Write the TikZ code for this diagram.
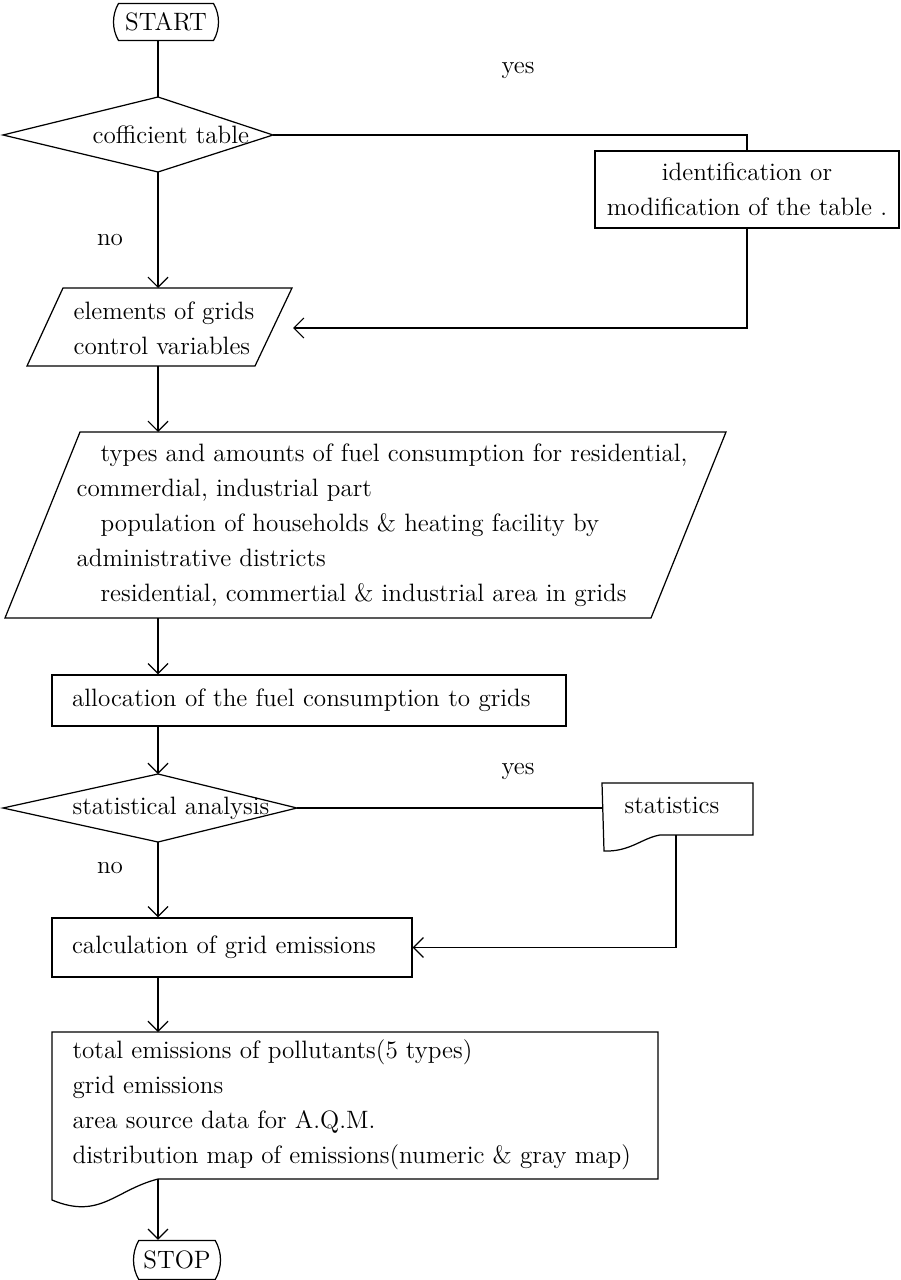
\documentclass[tikz,border=0pt]{standalone}
\usetikzlibrary{shapes.misc,arrows.meta}
\begin{document}
\begin{tikzpicture}
[
x=0.02cm,y=-0.02cm,
line width=0.7pt,
every node/.style={font=\fontsize{14.3}{19.9}\selectfont},
terminal/.style 2 args={draw,rounded rectangle,rounded rectangle arc length=60,inner sep=0pt,minimum width=#1,minimum height=#2},
process/.style 2 args={draw,rectangle,inner xsep=0.4cm,inner ysep=0pt,align=left,text width=#1,minimum height=#2},
txt/.style={inner sep=0pt,anchor=west,align=left},
flow/.style={-{Straight Barb[length=5.7pt,width=11.4pt]}},
]
\useasboundingbox (0,0) rectangle (901,1280);

%Place the nodes
\node[terminal={2.1cm}{0.74cm}] (start) at (166,22) {START};
\coordinate (d1l) at (3,135);
\coordinate (d1t) at (158,97);
\coordinate (d1r) at (273,135);
\coordinate (d1b) at (158,172);
\draw (d1l) -- (d1t) -- (d1r) -- (d1b) -- cycle;
\node[txt] (coef) at (92,135) {cofficient table};
\node (yes1) at (518,70) {yes};
\node (no1) at (110,240) {no};
\node[draw,rectangle,inner sep=0pt,align=center,minimum width=6.08cm,minimum height=1.54cm] (ident) at (747,189.5) {identification or\\ modification of the table .};

\coordinate (p1t) at (158,288);
\coordinate (p1b) at (158,366);
\coordinate (p1in) at (293,328);
\draw (63,288) -- (292,288) -- (255,366) -- (27,366) -- cycle;
\node[txt] (grids) at (73,328.5) {elements of grids\\ control variables};

\coordinate (p2t) at (158,432);
\coordinate (p2b) at (158,618);
\draw (80,432) -- (726,432) -- (651,618) -- (5,618) -- cycle;
\node[txt] (fuel) at (76,525) {\hspace*{0.48cm}types and amounts of fuel consumption for residential,\\
commerdial, industrial part\\
\hspace*{0.48cm}population of households \& heating facility by\\
administrative districts\\
\hspace*{0.48cm}residential, commertial \& industrial area in grids};

\node[process={9.48cm}{1.02cm}] (alloc) at (309,700.5) {allocation of the fuel consumption to grids};

\coordinate (d2l) at (3,808);
\coordinate (d2t) at (158,774);
\coordinate (d2r) at (297,808);
\coordinate (d2b) at (158,842);
\draw (d2l) -- (d2t) -- (d2r) -- (d2b) -- cycle;
\node[txt] (stat) at (72,808) {statistical analysis};
\node (yes2) at (518,771) {yes};
\node (no2) at (110,868) {no};

\coordinate (s1) at (602,808);
\coordinate (s2) at (676,835);
\draw (602,783) -- (753,783) -- (753,835) -- (660,835) .. controls (642,838) and (630,852) .. (604,851) -- cycle;
\node (stats) at (672,805) {statistics};

\node[process={6.4cm}{1.18cm}] (calc) at (232,947.5) {calculation of grid emissions};

\coordinate (o1) at (158,1032);
\coordinate (o2) at (158,1179);
\draw (52,1032) -- (658,1032) -- (658,1179) -- (o2) .. controls (115,1190) and (100,1220) .. (52,1200) -- cycle;
\node[txt] (result) at (72,1105) {total emissions of pollutants(5 types)\\
grid emissions\\
area source data for A.Q.M.\\
distribution map of emissions(numeric \& gray map)};

\node[terminal={1.74cm}{0.78cm}] (stop) at (177,1260) {STOP};

%Draw the connections
\draw (d1t |- start.south) -- (d1t);
\draw (d1r) -| (ident.north);
\draw[flow] (ident.south) |- (p1in);
\draw[flow] (d1b) -- (p1t);
\draw[flow] (p1b) -- (p2t);
\draw[flow] (p2b) -- (p2b |- alloc.north);
\draw[flow] (alloc.south -| d2t) -- (d2t);
\draw (d2r) -- (s1);
\draw[flow] (s2) |- (calc.east);
\draw[flow] (d2b) -- (d2b |- calc.north);
\draw[flow] (calc.south -| o1) -- (o1);
\draw[flow] (o2) -- (o2 |- stop.north);
\end{tikzpicture}
\end{document}
